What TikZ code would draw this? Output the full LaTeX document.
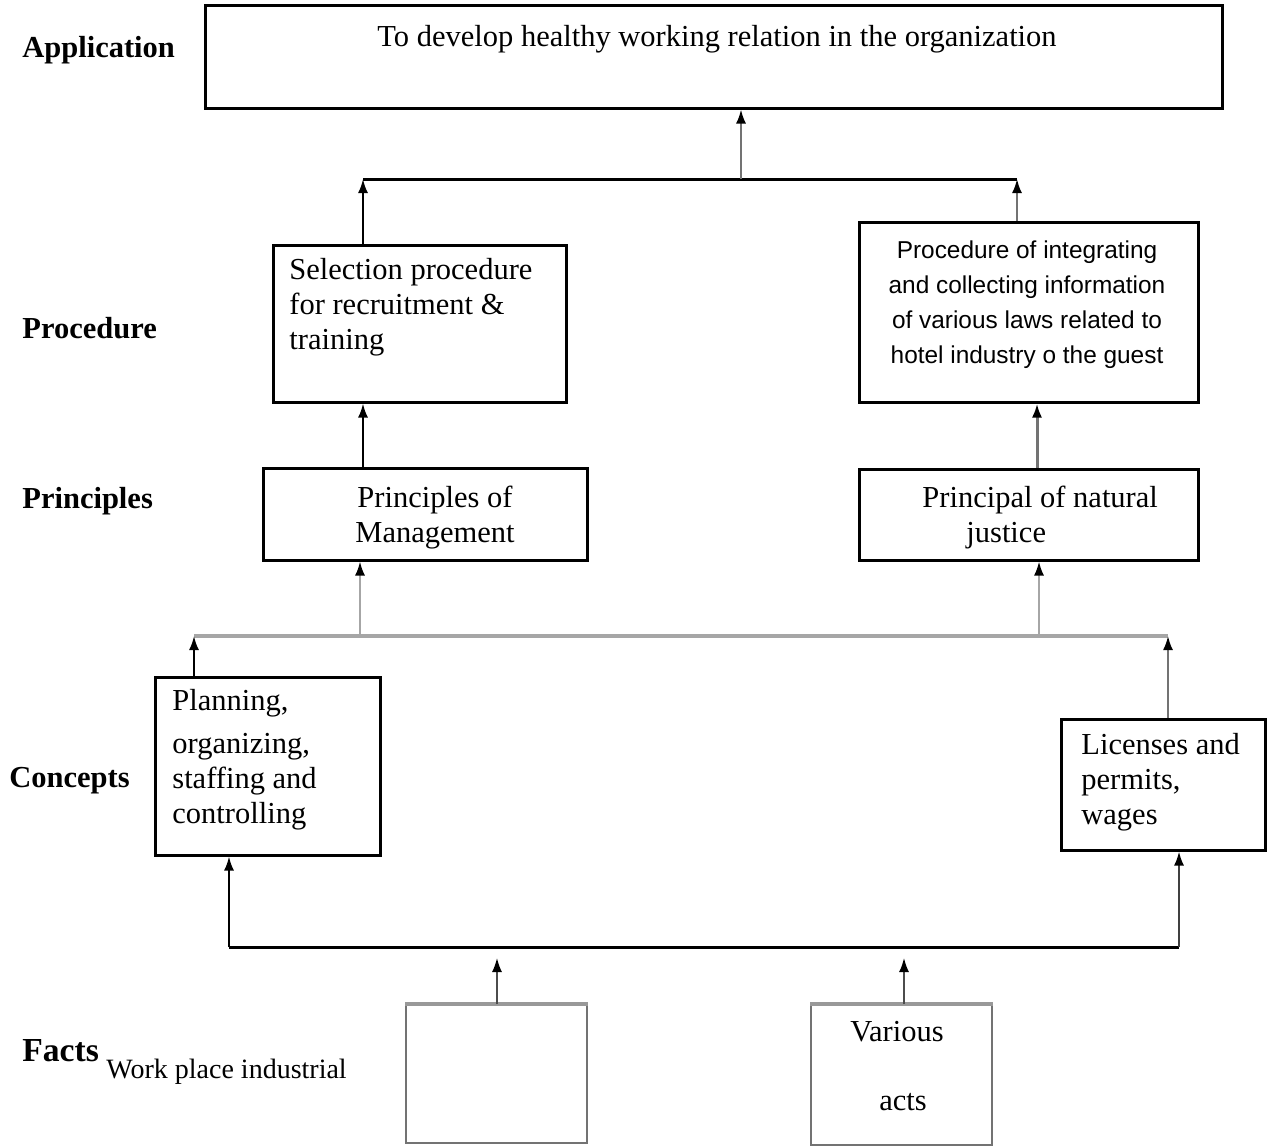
\documentclass[tikz,border=0pt]{standalone}
\usepackage{fontspec}
\setmainfont{Liberation Serif}
\newfontfamily\arialfont{Liberation Sans}
\usetikzlibrary{arrows.meta}
\begin{document}
\begin{tikzpicture}[x=0.5pt,y=-0.5pt,
  box/.style={draw, line width=1.5pt, rectangle, inner sep=0pt},
  factbox/.style={draw=black!55, line width=0.8pt, rectangle, inner sep=0pt},
  txt/.style={inner sep=0pt, font=\fontsize{15.25}{17.5}\selectfont},
  atxt/.style={inner sep=0pt, align=center, font=\arialfont\fontsize{12.2}{17.5}\selectfont},
  lab/.style={inner sep=0pt, anchor=west, font=\bfseries\fontsize{15.25}{17.5}\selectfont},
  arr/.style={-{Latex[length=7pt,width=5pt]}, line width=1pt, draw=black},
  garr/.style={-{Latex[length=7pt,width=5pt,color=black]}, line width=1pt, draw=black!55},
  bus/.style={line width=1.5pt, draw=black},
  gbus/.style={line width=2pt, draw=black!35}]
\useasboundingbox (0,0) rectangle (1267,1146);

% boxes
\node[box, minimum width=508.5pt, minimum height=51.5pt] (app) at (713.5,56.5) {};
\node[box, minimum width=146.5pt, minimum height=78.5pt] (sel) at (419.5,323.5) {};
\node[box, minimum width=169.5pt, minimum height=90pt] (proc) at (1028.5,312) {};
\node[box, minimum width=162pt, minimum height=46pt] (pm) at (425,514) {};
\node[box, minimum width=169.5pt, minimum height=45.5pt] (pnj) at (1028.5,514.5) {};
\node[box, minimum width=112.5pt, minimum height=89pt] (con1) at (267.5,766) {};
\node[box, minimum width=102pt, minimum height=65.5pt] (con2) at (1163,784.5) {};
\node[factbox, minimum width=90.5pt, minimum height=69pt] (fact1) at (496.5,1074) {};
\node[factbox, minimum width=90.5pt, minimum height=70pt] (fact2) at (901.5,1075) {};
\draw[line width=2pt, draw=black!40] (fact1.north west) -- (fact1.north east);
\draw[line width=2pt, draw=black!40] (fact2.north west) -- (fact2.north east);

% texts inside boxes
\node[txt] (tapp) at (717,39) {To develop healthy working relation in the organization};
\node[txt, anchor=west, align=left] (tsel) at (289,307) {Selection procedure\\for recruitment \&\\training};
\node[atxt] (tproc) at (1027,305) {Procedure of integrating\\and collecting information\\of various laws related to\\hotel industry o the guest};
\node[txt, align=center] (tpm) at (435,518) {Principles of\\Management};
\node[txt, anchor=west, align=left] (tpnj) at (922,517) {Principal of natural\\\hspace*{22pt}justice};
\node[txt, anchor=west, align=left] (tcon1) at (172,760) {Planning,\\[4pt]organizing,\\staffing and\\controlling};
\node[txt, anchor=west, align=left] (tcon2) at (1081,782) {Licenses and\\permits,\\wages};
\node[txt] (tvar) at (897,1032) {Various};
\node[txt] (tacts) at (903,1102) {acts};

% row labels
\node[lab] (lapp) at (22,50) {Application};
\node[lab] (lproc) at (22,328) {Procedure};
\node[lab] (lprin) at (22,501) {Principles};
\node[lab] (lcon) at (9,781) {Concepts};
\node[lab, font=\bfseries\fontsize{16.8}{19}\selectfont] (lfact) at (22,1051) {Facts};
\node[txt, anchor=west, font=\fontsize{14}{16}\selectfont] (lwork) at (106,1072) {Work place industrial};

% bus coordinates
\coordinate (b1l) at (363,179);
\coordinate (b1m) at (741,179);
\coordinate (b1r) at (1017,179);
\coordinate (pj) at (1037,0);
\coordinate (b2l) at (194,636);
\coordinate (b2a) at (360,636);
\coordinate (b2b) at (1039,636);
\coordinate (b2r) at (1168,636);
\coordinate (b3l) at (229,947);
\coordinate (b3r) at (1179,947);
\coordinate (f1t) at (497,958);
\coordinate (f2t) at (904,958);

% buses
\draw[bus] (b1l) -- (b1r);
\draw[gbus] (b2l) -- (b2r);
\draw[bus] (b3l) -- (b3r);

% connectors
\draw[garr] (b1m) -- (b1m |- app.south);
\draw[arr] (b1l |- sel.north) -- (b1l);
\draw[garr] (b1r |- proc.north) -- (b1r);
\draw[arr] (b1l |- pm.north) -- (b1l |- sel.south);
\draw[garr, line width=1.5pt] (pj |- pnj.north) -- (pj |- proc.south);
\draw[garr, draw=black!35] (b2a) -- (b2a |- pm.south);
\draw[garr, draw=black!35] (b2b) -- (b2b |- pnj.south);
\draw[arr] (b2l |- con1.north) -- (b2l);
\draw[garr] (b2r |- con2.north) -- (b2r);
\draw[arr] (b3l) -- (b3l |- con1.south);
\draw[garr, draw=black!75] (b3r) -- (b3r |- con2.south);
\draw[garr, draw=black!70, line width=0.8pt] (f1t |- fact1.north) -- (f1t);
\draw[garr, draw=black!70, line width=0.8pt] (f2t |- fact2.north) -- (f2t);
\end{tikzpicture}
\end{document}
